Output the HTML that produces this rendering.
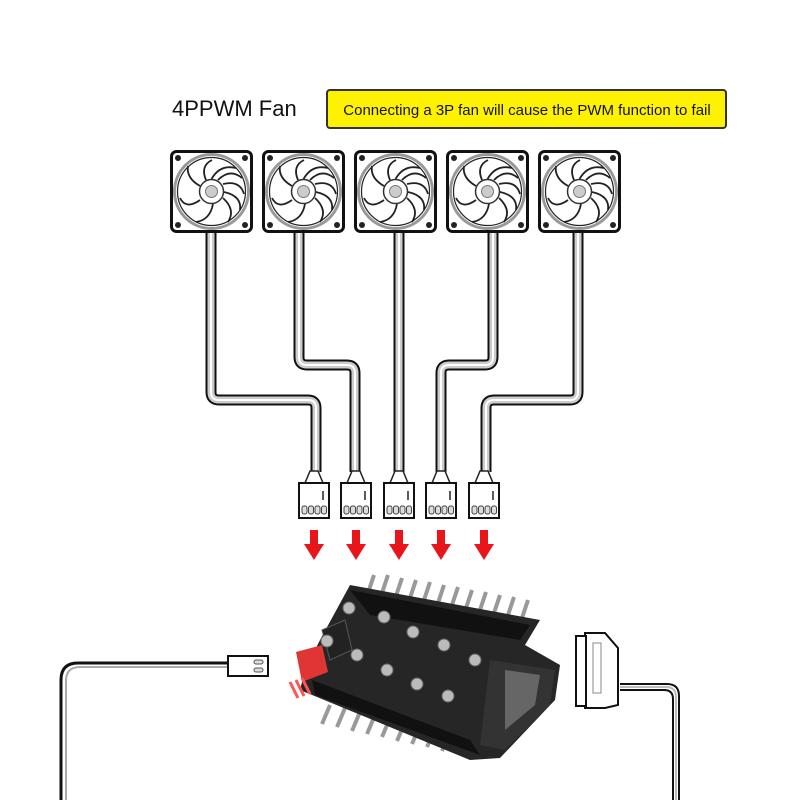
<!DOCTYPE html>
<html><head><meta charset="utf-8"><style>
html,body{margin:0;padding:0;background:#fff}
svg{display:block}
text{font-family:"Liberation Sans",sans-serif}
</style></head><body>
<svg width="800" height="800" viewBox="0 0 800 800" xmlns="http://www.w3.org/2000/svg">
<defs>
<g id="fan">
<rect x="1.5" y="1.5" width="80" height="80" rx="5" fill="#fff" stroke="#111" stroke-width="3"/>
<circle cx="41.5" cy="41.5" r="37" fill="#fff" stroke="#999" stroke-width="3"/>
<circle cx="41.5" cy="41.5" r="34" fill="#fff" stroke="#222" stroke-width="1.2"/>
<g fill="none" stroke="#222" stroke-width="1.8">
<path d="M41.5 29 Q50 14 66 18"/><path d="M53 34 Q70 30 74 44"/><path d="M53 48 Q66 60 58 72"/>
<path d="M43 54 Q40 70 26 72"/><path d="M30 50 Q16 60 10 48"/><path d="M30 36 Q16 28 18 16"/>
<path d="M36 30 Q30 16 42 10"/><path d="M48 30 Q60 18 72 28"/><path d="M54 42 Q72 46 70 60"/>
</g>
<circle cx="41.5" cy="41.5" r="12" fill="#fff" stroke="#333" stroke-width="1.5"/>
<circle cx="41.5" cy="41.5" r="6" fill="#ccc" stroke="#777"/>
<circle cx="8" cy="8" r="3" fill="#222"/><circle cx="75" cy="8" r="3" fill="#222"/>
<circle cx="8" cy="75" r="3" fill="#222"/><circle cx="75" cy="75" r="3" fill="#222"/>
</g>
<g id="conn">
<path d="M-9 0 L-4 -12 L4 -12 L9 0" fill="#fff" stroke="#222" stroke-width="1.5"/>
<rect x="-15" y="0" width="30" height="35" fill="#fff" stroke="#111" stroke-width="2"/>
<path d="M9 8 V17" stroke="#222" stroke-width="1.5"/>
<rect x="-12" y="23" width="5" height="8" rx="2" fill="#ddd" stroke="#444"/>
<rect x="-5.5" y="23" width="5" height="8" rx="2" fill="#ddd" stroke="#444"/>
<rect x="1" y="23" width="5" height="8" rx="2" fill="#ddd" stroke="#444"/>
<rect x="7.5" y="23" width="5" height="8" rx="2" fill="#ddd" stroke="#444"/>
</g>
<path id="arr" d="M-4 0 H4 V14 H10 L0 30 L-10 14 H-4 Z" fill="#e8161a"/>
</defs>

<text x="172" y="116" font-size="22" fill="#111">4PPWM Fan</text>
<rect x="327" y="90" width="399" height="38" rx="3" fill="#fff200" stroke="#333" stroke-width="2"/>
<text x="527" y="115" font-size="15" fill="#111" text-anchor="middle">Connecting a 3P fan will cause the PWM function to fail</text>

<g fill="none" stroke-linejoin="round">
<g stroke="#111" stroke-width="11">
<path d="M211 233 V392 Q211 400 219 400 H308 Q316 400 316 408 V472"/>
<path d="M299 233 V357 Q299 365 307 365 H347 Q355 365 355 373 V472"/>
<path d="M399 233 V472"/>
<path d="M493 233 V357 Q493 365 485 365 H449 Q441 365 441 373 V472"/>
<path d="M578 233 V392 Q578 400 570 400 H494 Q486 400 486 408 V472"/>
</g>
<g stroke="#ccc" stroke-width="7">
<path d="M211 233 V392 Q211 400 219 400 H308 Q316 400 316 408 V472"/>
<path d="M299 233 V357 Q299 365 307 365 H347 Q355 365 355 373 V472"/>
<path d="M399 233 V472"/>
<path d="M493 233 V357 Q493 365 485 365 H449 Q441 365 441 373 V472"/>
<path d="M578 233 V392 Q578 400 570 400 H494 Q486 400 486 408 V472"/>
</g>
<g stroke="#fff" stroke-width="2">
<path d="M211 233 V392 Q211 400 219 400 H308 Q316 400 316 408 V472"/>
<path d="M299 233 V357 Q299 365 307 365 H347 Q355 365 355 373 V472"/>
<path d="M399 233 V472"/>
<path d="M493 233 V357 Q493 365 485 365 H449 Q441 365 441 373 V472"/>
<path d="M578 233 V392 Q578 400 570 400 H494 Q486 400 486 408 V472"/>
</g>
<path d="M230 663 H78 Q61 663 61 680 V800" stroke="#111" stroke-width="3"/>
<path d="M230 667 H80 Q66 667 66 681 V800" stroke="#aaa" stroke-width="2"/>
<path d="M620 684 H667 Q679 684 679 696 V800" stroke="#111" stroke-width="2"/>
<path d="M620 690 H664 Q673 690 673 699 V800" stroke="#111" stroke-width="2"/>
<path d="M620 687 H666 Q676 687 676 697 V800" stroke="#bbb" stroke-width="2"/>
</g>

<use href="#fan" x="170" y="150"/>
<use href="#fan" x="262" y="150"/>
<use href="#fan" x="354" y="150"/>
<use href="#fan" x="446" y="150"/>
<use href="#fan" x="538" y="150"/>

<use href="#conn" x="314" y="483"/>
<use href="#conn" x="356" y="483"/>
<use href="#conn" x="399" y="483"/>
<use href="#conn" x="441" y="483"/>
<use href="#conn" x="484" y="483"/>

<use href="#arr" x="314" y="530"/>
<use href="#arr" x="356" y="530"/>
<use href="#arr" x="399" y="530"/>
<use href="#arr" x="441" y="530"/>
<use href="#arr" x="484" y="530"/>

<rect x="228" y="656" width="40" height="20" fill="#fff" stroke="#111" stroke-width="2"/>
<rect x="254" y="660" width="9" height="4" rx="2" fill="#ddd" stroke="#555"/>
<rect x="254" y="668" width="9" height="4" rx="2" fill="#ddd" stroke="#555"/>

<path d="M585 633 H605 L618 648 V705 L605 708 H585 Z" fill="#fff" stroke="#111" stroke-width="2"/>
<rect x="576" y="636" width="10" height="70" fill="#fff" stroke="#111" stroke-width="2"/>
<rect x="593" y="643" width="8" height="50" fill="#fff" stroke="#888"/>

<g>
<g stroke="#999" stroke-width="4">
<path d="M368 593 L374 575 M382 593 L388 575 M396 596 L402 578 M410 598 L416 580 M424 600 L430 582 M438 603 L444 585 M452 605 L458 587 M466 608 L472 590 M480 610 L486 592 M494 613 L500 595 M508 615 L514 597 M522 618 L528 600"/>
<path d="M330 705 L322 724 M345 708 L337 727 M360 712 L352 731 M375 715 L367 734 M390 718 L382 737 M405 722 L397 741 M420 725 L412 744 M435 728 L427 747 M450 732 L442 751 M465 735 L457 754"/>
</g>
<path d="M350 585 L540 620 L525 645 L560 665 L555 700 L500 758 L470 760 L300 690 L305 670 L320 640 Z" fill="#262626"/>
<path d="M350 590 L530 625 L520 640 L370 615 Z" fill="#111"/>
<path d="M312 680 L470 740 L480 755 L315 695 Z" fill="#111"/>
<path d="M490 660 L555 670 L550 705 L505 750 L480 745 Z" fill="#333"/>
<path d="M505 670 L540 675 L535 705 L505 730 Z" fill="#666"/>
<path d="M322 630 L345 620 L352 650 L330 660 Z" fill="#222" stroke="#555"/>
<path d="M296 652 L322 645 L328 672 L302 682 Z" fill="#e03535"/>
<path d="M290 682 L298 698 M296 680 L304 696 M302 678 L310 694" stroke="#f55" stroke-width="3"/>
<g fill="#bbb" stroke="#666">
<circle cx="349" cy="608" r="6"/><circle cx="384" cy="617" r="6"/><circle cx="413" cy="632" r="6"/>
<circle cx="444" cy="645" r="6"/><circle cx="475" cy="660" r="6"/>
<circle cx="327" cy="641" r="6"/><circle cx="357" cy="655" r="6"/><circle cx="387" cy="670" r="6"/>
<circle cx="417" cy="684" r="6"/><circle cx="448" cy="696" r="6"/>
</g>
</g>
</svg>
</body></html>
